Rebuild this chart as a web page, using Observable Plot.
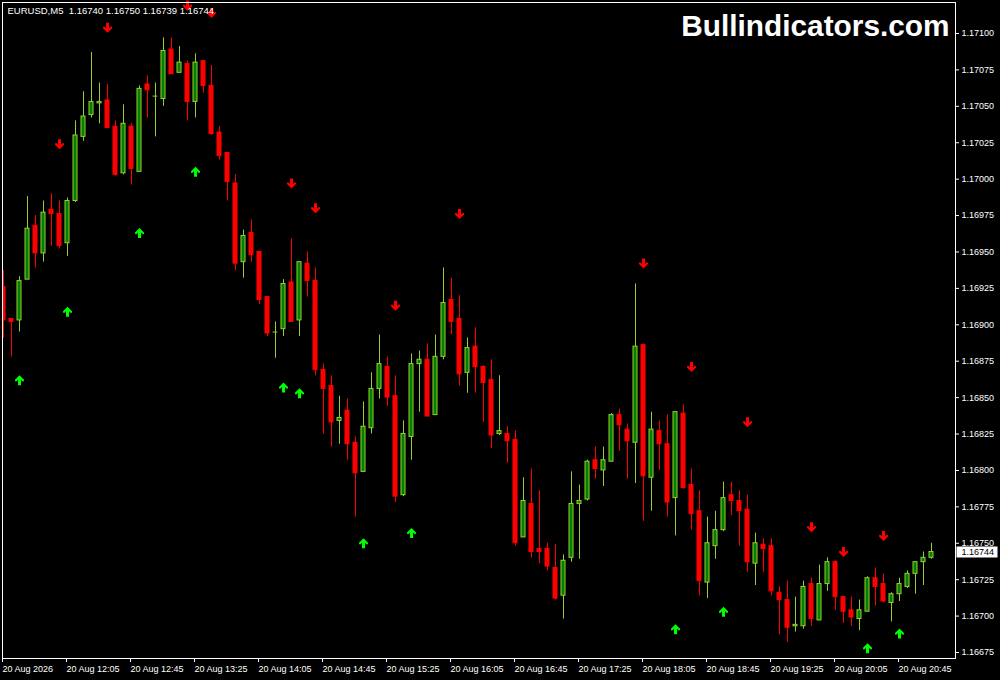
<!DOCTYPE html>
<html>
<head>
<meta charset="utf-8">
<script src="https://cdn.jsdelivr.net/npm/d3@7"></script>
<script src="https://cdn.jsdelivr.net/npm/@observablehq/plot@0.6"></script>
<style>
  html, body { margin: 0; padding: 0; background: #000; }
  #chart { width: 1000px; height: 680px; }
</style>
</head>
<body>
<div id="chart"></div>
<script>
// EURUSD M5, one bar every 5 minutes from 11:25
const header = "EURUSD,M5  1.16740 1.16750 1.16739 1.16744"
const watermark = "Bullindicators.com"

const open = [1.16926, 1.16904, 1.16903, 1.16931, 1.16968, 1.16949, 1.16979, 1.16976, 1.16956, 1.16985,
  1.17029, 1.17044, 1.17052, 1.17054, 1.17036, 1.17004, 1.17036, 1.17005, 1.17065, 1.17057,
  1.17055, 1.17089, 1.17073, 1.17079, 1.17053, 1.17081, 1.17064, 1.17032, 1.17018, 1.16997,
  1.16943, 1.16963, 1.16950, 1.16919, 1.16895, 1.16897, 1.16929, 1.16903, 1.16942, 1.16930,
  1.16869, 1.16858, 1.16834, 1.16841, 1.16819, 1.16799, 1.16829, 1.16856, 1.16871, 1.16851,
  1.16783, 1.16823, 1.16873, 1.16876, 1.16838, 1.16878, 1.16917, 1.16904, 1.16867, 1.16885,
  1.16871, 1.16862, 1.16825, 1.16825, 1.16821, 1.16754, 1.16777, 1.16746, 1.16746, 1.16733,
  1.16714, 1.16740, 1.16777, 1.16780, 1.16807, 1.16800, 1.16806, 1.16838, 1.16828, 1.16819,
  1.16886, 1.16795, 1.16827, 1.16818, 1.16781, 1.16839, 1.16790, 1.16772, 1.16723, 1.16748,
  1.16759, 1.16783, 1.16779, 1.16773, 1.16736, 1.16749, 1.16748, 1.16716, 1.16711, 1.16693,
  1.16693, 1.16722, 1.16697, 1.16722, 1.16737, 1.16713, 1.16704, 1.16698, 1.16703, 1.16726,
  1.16722, 1.16709, 1.16715, 1.16720, 1.16729, 1.16737, 1.16740]
const high = [1.16937, 1.16904, 1.16933, 1.16988, 1.16975, 1.16985, 1.16990, 1.16985, 1.16987, 1.17040,
  1.17060, 1.17087, 1.17066, 1.17065, 1.17040, 1.17051, 1.17038, 1.17064, 1.17071, 1.17066,
  1.17097, 1.17097, 1.17091, 1.17081, 1.17086, 1.17081, 1.17078, 1.17036, 1.17018, 1.17003,
  1.16965, 1.16972, 1.16950, 1.16919, 1.16902, 1.16931, 1.16959, 1.16943, 1.16950, 1.16939,
  1.16873, 1.16865, 1.16851, 1.16849, 1.16823, 1.16847, 1.16867, 1.16893, 1.16878, 1.16865,
  1.16834, 1.16880, 1.16882, 1.16887, 1.16893, 1.16939, 1.16932, 1.16920, 1.16891, 1.16898,
  1.16872, 1.16876, 1.16865, 1.16830, 1.16827, 1.16795, 1.16801, 1.16786, 1.16750, 1.16749,
  1.16742, 1.16799, 1.16790, 1.16807, 1.16816, 1.16816, 1.16839, 1.16842, 1.16832, 1.16928,
  1.16887, 1.16840, 1.16834, 1.16838, 1.16840, 1.16845, 1.16801, 1.16786, 1.16768, 1.16772,
  1.16792, 1.16792, 1.16786, 1.16783, 1.16757, 1.16753, 1.16753, 1.16720, 1.16724, 1.16713,
  1.16724, 1.16726, 1.16735, 1.16740, 1.16738, 1.16713, 1.16713, 1.16711, 1.16727, 1.16733,
  1.16729, 1.16716, 1.16726, 1.16731, 1.16737, 1.16744, 1.16750]
const low = [1.16891, 1.16878, 1.16895, 1.16931, 1.16939, 1.16943, 1.16954, 1.16952, 1.16947, 1.16984,
  1.17026, 1.17042, 1.17038, 1.17035, 1.17002, 1.17003, 1.16996, 1.17005, 1.17042, 1.17029,
  1.17050, 1.17072, 1.17073, 1.17040, 1.17042, 1.17059, 1.17030, 1.17013, 1.16985, 1.16937,
  1.16932, 1.16943, 1.16914, 1.16892, 1.16877, 1.16892, 1.16902, 1.16892, 1.16919, 1.16865,
  1.16825, 1.16816, 1.16818, 1.16807, 1.16768, 1.16799, 1.16825, 1.16849, 1.16844, 1.16778,
  1.16782, 1.16807, 1.16840, 1.16837, 1.16838, 1.16876, 1.16893, 1.16858, 1.16853, 1.16853,
  1.16833, 1.16815, 1.16824, 1.16805, 1.16748, 1.16754, 1.16740, 1.16736, 1.16731, 1.16711,
  1.16698, 1.16737, 1.16739, 1.16779, 1.16794, 1.16789, 1.16806, 1.16813, 1.16794, 1.16791,
  1.16765, 1.16772, 1.16800, 1.16768, 1.16755, 1.16787, 1.16759, 1.16714, 1.16712, 1.16739,
  1.16758, 1.16769, 1.16748, 1.16730, 1.16721, 1.16730, 1.16714, 1.16687, 1.16682, 1.16689,
  1.16691, 1.16693, 1.16697, 1.16717, 1.16704, 1.16695, 1.16693, 1.16690, 1.16703, 1.16707,
  1.16709, 1.16696, 1.16710, 1.16719, 1.16715, 1.16721, 1.16739]
const close = [1.16903, 1.16902, 1.16930, 1.16966, 1.16949, 1.16977, 1.16976, 1.16954, 1.16985, 1.17030,
  1.17043, 1.17053, 1.17053, 1.17035, 1.17003, 1.17038, 1.17007, 1.17062, 1.17061, 1.17057,
  1.17088, 1.17072, 1.17080, 1.17053, 1.17080, 1.17064, 1.17031, 1.17016, 1.16998, 1.16942,
  1.16961, 1.16948, 1.16917, 1.16894, 1.16895, 1.16928, 1.16902, 1.16943, 1.16930, 1.16869,
  1.16856, 1.16833, 1.16836, 1.16818, 1.16798, 1.16830, 1.16856, 1.16873, 1.16850, 1.16782,
  1.16825, 1.16873, 1.16876, 1.16837, 1.16878, 1.16915, 1.16902, 1.16866, 1.16884, 1.16871,
  1.16860, 1.16824, 1.16827, 1.16820, 1.16750, 1.16779, 1.16744, 1.16744, 1.16734, 1.16712,
  1.16738, 1.16777, 1.16779, 1.16806, 1.16801, 1.16807, 1.16838, 1.16831, 1.16820, 1.16885,
  1.16796, 1.16828, 1.16818, 1.16778, 1.16840, 1.16788, 1.16770, 1.16724, 1.16750, 1.16759,
  1.16781, 1.16779, 1.16772, 1.16737, 1.16750, 1.16746, 1.16717, 1.16711, 1.16692, 1.16694,
  1.16720, 1.16698, 1.16722, 1.16737, 1.16713, 1.16703, 1.16699, 1.16704, 1.16726, 1.16720,
  1.16710, 1.16715, 1.16722, 1.16729, 1.16737, 1.16740, 1.16744]

// indicator arrows: bar index + price level
const sellBars = [7, 13, 23, 26, 36, 39, 49, 57, 80, 86, 93, 101, 105, 110]
const sellLevels = [1.17024, 1.17104, 1.17119, 1.17114, 1.16997, 1.16980, 1.16913, 1.16976,
  1.16942, 1.16871, 1.16833, 1.16761, 1.16744, 1.16755]
const buyBars = [2, 8, 17, 24, 35, 37, 45, 51, 84, 90, 108, 112]
const buyLevels = [1.16862, 1.16909, 1.16963, 1.17005, 1.16857, 1.16853, 1.16750, 1.16757,
  1.16691, 1.16703, 1.16678, 1.16688]

// axes
const xTicks = [0, 8, 16, 24, 32, 40, 48, 56, 64, 72, 80, 88, 96, 104, 112]
const xLabels = ["20 Aug 2026", "20 Aug 12:05", "20 Aug 12:45", "20 Aug 13:25", "20 Aug 14:05",
  "20 Aug 14:45", "20 Aug 15:25", "20 Aug 16:05", "20 Aug 16:45", "20 Aug 17:25", "20 Aug 18:05",
  "20 Aug 18:45", "20 Aug 19:25", "20 Aug 20:05", "20 Aug 20:45"]
const yTicks = [1.16675, 1.16700, 1.16725, 1.16750, 1.16775, 1.16800, 1.16825, 1.16850, 1.16875,
  1.16900, 1.16925, 1.16950, 1.16975, 1.17000, 1.17025, 1.17050, 1.17075, 1.17100]

const bars = open.map((o, i) => ({i, o, h: high[i], l: low[i], c: close[i], up: close[i] >= o}))
const bulls = bars.filter(d => d.up)
const bears = bars.filter(d => !d.up)
const dojis = bars.filter(d => d.o === d.c)
const sells = sellBars.map((i, k) => ({i, y: sellLevels[k]}))
const buys = buyBars.map((i, k) => ({i, y: buyLevels[k]}))
const last = close[close.length - 1]

// arrow glyph, pointing down; sign flips it
const arrowPts = [[-1.5, -5], [1.5, -5], [1.5, 0.5], [3.5, -1.5], [4.5, -0.5], [4.5, 0.5],
  [0, 5], [-4.5, 0.5], [-4.5, -0.5], [-3.5, -1.5], [-1.5, 0.5]]
const arrow = s => ({
  draw(ctx) {
    ctx.moveTo(arrowPts[0][0], s * arrowPts[0][1])
    arrowPts.slice(1).forEach(p => ctx.lineTo(p[0], s * p[1]))
    ctx.closePath()
  }
})
const priceBox = {draw(ctx) { ctx.rect(-20.5, -5.5, 41, 11) }}

const bullLine = "#9acd32"
const bullBody = "#008000"
const bearCol = "#ff0000"

const chart = Plot.plot({
  width: 1000,
  height: 680,
  marginTop: 2,
  marginRight: 45,
  marginBottom: 22,
  marginLeft: 2,
  style: {background: "#000", color: "#fff", fontFamily: "Liberation Sans, Arial, sans-serif", fontSize: "9px"},
  x: {domain: [-0.125, 119]},
  y: {domain: [1.1667088, 1.1712128]},
  marks: [
    Plot.ruleX(bulls, {x: "i", y1: "l", y2: "h", stroke: bullLine, clip: true}),
    Plot.ruleX(bears, {x: "i", y1: "l", y2: "h", stroke: bearCol, clip: true}),
    Plot.rect(bulls, {x1: d => d.i - 0.25, x2: d => d.i + 0.25, y1: "o", y2: "c", fill: bullBody, stroke: bullLine, clip: true}),
    Plot.rect(bears, {x1: d => d.i - 0.25, x2: d => d.i + 0.25, y1: "o", y2: "c", fill: bearCol, stroke: bearCol, clip: true}),
    Plot.ruleY(dojis, {y: "o", x1: d => d.i - 0.3, x2: d => d.i + 0.3, stroke: bullLine}),
    Plot.dot(sells, {x: "i", y: "y", symbol: arrow(1), fill: bearCol, stroke: "none"}),
    Plot.dot(buys, {x: "i", y: "y", symbol: arrow(-1), fill: "#00ff00", stroke: "none"}),
    Plot.frame({stroke: "#fff"}),
    Plot.axisY({ticks: yTicks, anchor: "right", tickSize: 3, tickPadding: 3, tickFormat: d => d.toFixed(5), label: null}),
    Plot.axisX({ticks: xTicks, anchor: "bottom", tickSize: 4, tickPadding: 3, textAnchor: "start", dx: -1,
      tickFormat: d => xLabels[xTicks.indexOf(d)], label: null}),
    Plot.dot([last], {y: d => d, frameAnchor: "right", dx: 21.5, symbol: priceBox, fill: "#fff", stroke: "none"}),
    Plot.text([last], {y: d => d, text: d => d.toFixed(5), frameAnchor: "right", dx: 6, textAnchor: "start", fill: "#000"}),
    Plot.text([header], {text: d => d, frameAnchor: "top-left", textAnchor: "start", lineAnchor: "top",
      dx: 5, dy: 5, fontSize: 9.5, fill: "#fff"}),
    Plot.text([watermark], {text: d => d, frameAnchor: "top-right", textAnchor: "end", lineAnchor: "top",
      dx: -6, dy: 12, fontSize: 29.8, fontWeight: "bold", fill: "#fff"})
  ]
})
document.getElementById("chart").append(chart)
</script>
</body>
</html>
